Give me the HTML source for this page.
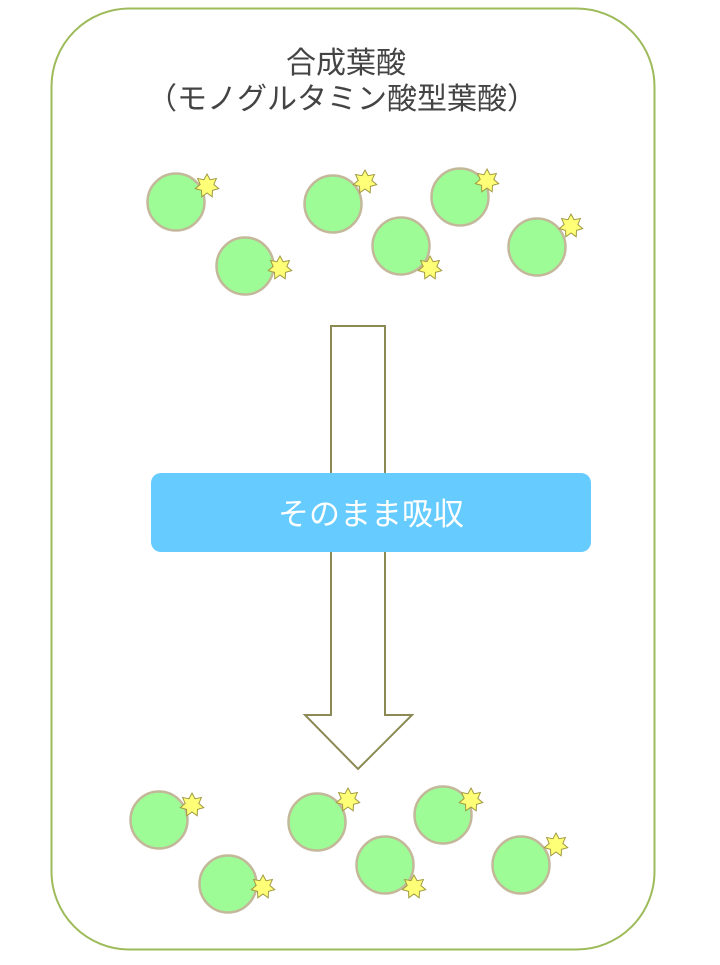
<!DOCTYPE html><html><head><meta charset="utf-8"><style>body{margin:0;background:#fff}</style></head><body>
<svg width="720" height="960" xmlns="http://www.w3.org/2000/svg">
<defs>
<polygon id="st" points="0,-12 3.04,-6.31 9.38,-7.48 6.82,-1.56 11.7,2.67 5.47,4.36 5.21,10.81 0,7 -5.21,10.81 -5.47,4.36 -11.7,2.67 -6.82,-1.56 -9.38,-7.48 -3.04,-6.31" fill="#ffff77" stroke="#a09a40" stroke-width="1"/>
<g id="c"><circle r="28.5" fill="#9dfc96" stroke="#c3b89a" stroke-width="2.5"/></g>
</defs>
<rect x="51.5" y="8.5" width="603" height="941" rx="78" fill="none" stroke="#9dbb5a" stroke-width="2"/>
<text x="346" y="73" text-anchor="middle" font-family="Liberation Sans, Noto Sans CJK JP, sans-serif" font-size="30" fill="#444">合成葉酸</text>
<text x="342" y="109" text-anchor="middle" font-family="Liberation Sans, Noto Sans CJK JP, sans-serif" font-size="30" fill="#444">（モノグルタミン酸型葉酸）</text>
<g>
<use href="#c" x="176" y="202"/><use href="#st" x="207" y="186"/>
<use href="#c" x="245" y="266"/><use href="#st" x="280" y="268"/>
<use href="#c" x="333" y="204"/><use href="#st" x="365" y="182"/>
<use href="#c" x="401" y="246"/><use href="#st" x="430" y="268"/>
<use href="#c" x="460" y="197"/><use href="#st" x="487" y="181"/>
<use href="#c" x="537" y="247"/><use href="#st" x="571" y="226"/>
<use href="#c" x="159" y="820"/><use href="#st" x="192" y="805"/>
<use href="#c" x="228" y="884"/><use href="#st" x="263" y="887"/>
<use href="#c" x="317" y="822"/><use href="#st" x="348" y="800"/>
<use href="#c" x="385" y="865"/><use href="#st" x="414" y="887"/>
<use href="#c" x="443" y="815"/><use href="#st" x="471" y="800"/>
<use href="#c" x="521" y="865"/><use href="#st" x="556" y="845"/>
</g>
<polygon points="331,326 385,326 385,715 412,715 358,769 305,715 331,715" fill="#fff" stroke="#8b8a55" stroke-width="2"/>
<rect x="151" y="473" width="440" height="79" rx="10" fill="#66ccff"/>
<text x="371" y="525" text-anchor="middle" font-family="Liberation Sans, Noto Sans CJK JP, sans-serif" font-size="31" fill="#fff">そのまま吸収</text>
</svg>
</body></html>
